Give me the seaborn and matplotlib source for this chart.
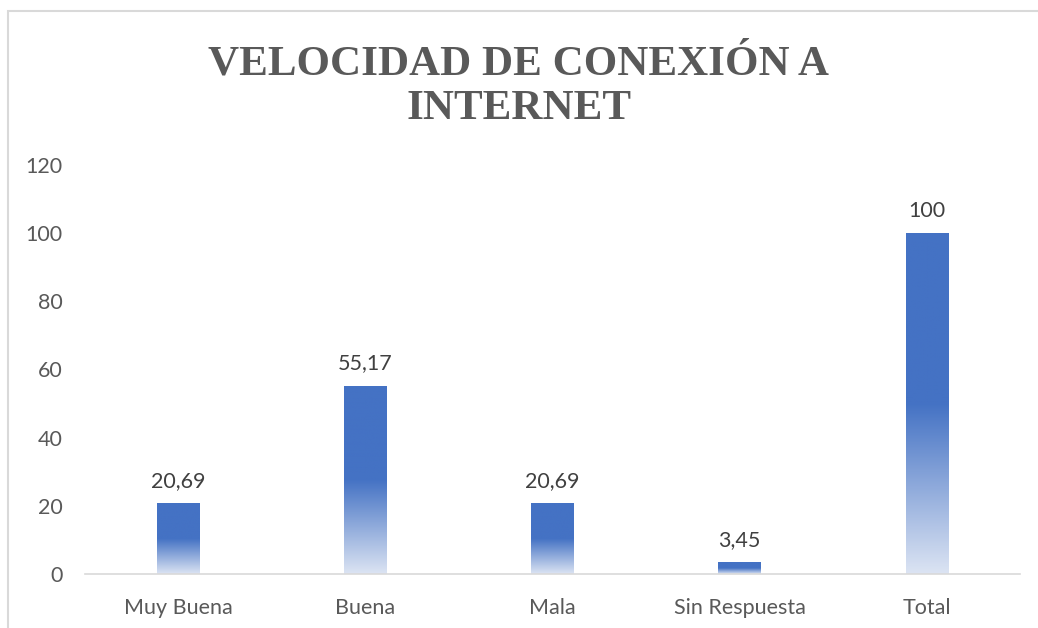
import numpy as np
import pandas as pd
import matplotlib
matplotlib.use("Agg")
import matplotlib.pyplot as plt
from matplotlib.colors import LinearSegmentedColormap
from matplotlib.patches import Rectangle
import seaborn as sns

# datos
categorias = ["Muy Buena", "Buena", "Mala", "Sin Respuesta", "Total"]
porcentajes = [20.69, 55.17, 20.69, 3.45, 100]
etiquetas = ["20,69", "55,17", "20,69", "3,45", "100"]

sns.set_style("white")
plt.rcParams['font.family'] = ['Lato', 'DejaVu Sans']

fig = plt.figure(figsize=(10.38, 6.28), dpi=100)
ax = fig.add_axes([0.0819, 0.086, 0.9008, 0.6513])

df = pd.DataFrame({"cat": categorias, "val": porcentajes})
sns.barplot(data=df, x="cat", y="val", color="#4472C4", width=0.225, ax=ax)

# degradado: claro abajo, azul solido desde la mitad hacia arriba
degradado = LinearSegmentedColormap.from_list(
    "deg", [(0.0, "#DCE4F3"), (0.5, "#4472C4"), (1.0, "#4472C4")])
grad = np.linspace(0, 1, 256).reshape(-1, 1)
for barra in ax.patches:
    x0, y0 = barra.get_x(), barra.get_y()
    w, h = barra.get_width(), barra.get_height()
    img = ax.imshow(grad, cmap=degradado, origin="lower", aspect="auto",
                    extent=[x0, x0 + w, y0, y0 + h], zorder=2)
    img.set_clip_path(barra)
    barra.set_facecolor("none")
    barra.set_edgecolor("none")

for i, txt in enumerate(etiquetas):
    ax.annotate(txt, (i, porcentajes[i]), xytext=(0, 9), textcoords="offset points",
                ha="center", va="bottom", fontsize=15.5, color="#404040")

ax.set_xlim(-0.5, 4.5)
ax.set_ylim(0, 120)
ax.set_yticks(range(0, 121, 20))
ax.set_xlabel("")
ax.set_ylabel("")
ax.tick_params(axis="y", length=0, pad=16, labelsize=15.5, labelcolor="#595959")
ax.tick_params(axis="x", length=0, pad=17, labelsize=15.5, labelcolor="#595959")
for lado in ["top", "right", "left"]:
    ax.spines[lado].set_visible(False)
ax.spines["bottom"].set_color("#D9D9D9")
ax.spines["bottom"].set_linewidth(1.2)

fig.text(0.5, 0.862, "VELOCIDAD DE CONEXIÓN A\nINTERNET", ha="center", va="center",
         fontsize=31, fontweight="bold", color="#595959",
         family=["Liberation Serif", "DejaVu Serif"], linespacing=1.2)

# marco del grafico
fig.patches.append(Rectangle((8 / 1038, -0.1), 1.2, 1 - 11 / 628 + 0.1,
                             transform=fig.transFigure, fill=False,
                             edgecolor="#D9D9D9", linewidth=1.5))

fig.savefig("out.png", dpi=100)
